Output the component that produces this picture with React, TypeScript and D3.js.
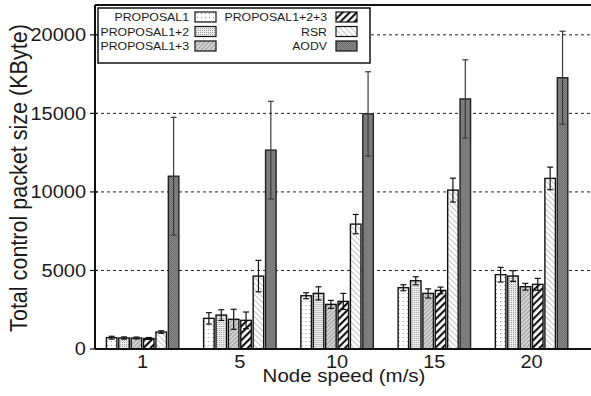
import React from 'react';
import * as d3 from 'd3';

const speeds = ['1', '5', '10', '15', '20'];
const seriesNames = ['PROPOSAL1', 'PROPOSAL1+2', 'PROPOSAL1+3', 'PROPOSAL1+2+3', 'RSR', 'AODV'];

const proposal1 = [720, 1950, 3390, 3900, 4730];
const proposal1Err = [90, 360, 190, 190, 465];
const proposal12 = [700, 2160, 3540, 4345, 4645];
const proposal12Err = [70, 340, 420, 255, 340];
const proposal13 = [700, 1890, 2840, 3540, 3965];
const proposal13Err = [60, 640, 255, 290, 215];
const proposal123 = [670, 1825, 3030, 3730, 4115];
const proposal123Err = [60, 530, 510, 210, 380];
const rsr = [1080, 4640, 7950, 10115, 10860];
const rsrErr = [80, 1000, 615, 760, 720];
const aodv = [11000, 12660, 14970, 15920, 17270];
const aodvErr = [3750, 3110, 2680, 2490, 2960];

const yTicks = [0, 5000, 10000, 15000, 20000];

const values = [proposal1, proposal12, proposal13, proposal123, rsr, aodv];
const errors = [proposal1Err, proposal12Err, proposal13Err, proposal123Err, rsrErr, aodvErr];
const fills = ['url(#pDots)', 'url(#pDense)', 'url(#pFine)', 'url(#pBold)', 'url(#pBack)', 'url(#pDark)'];

const font = '"Liberation Sans", Arial, Helvetica, sans-serif';
const SQ = 0.88; // picture is squeezed vertically

const W = 591, H = 396;
const left = 95, right = 591, top = 5, bottom = 349;

export default function App() {
  const x0 = d3.scaleBand().domain(speeds).range([94, 580.2]).padding(0);
  const x1 = d3.scaleBand().domain(seriesNames).range([0, x0.bandwidth()])
    .paddingInner(0.15).paddingOuter(1.0);
  const y = d3.scaleLinear().domain([0, 21900]).range([bottom, top]);

  const txt = (x: number, yy: number, s: string, size: number, anchor = 'middle', key?: any) => (
    <text key={key} transform={`translate(${x},${yy}) scale(1,${SQ})`} textAnchor={anchor}
      fontSize={size} fontFamily={font} fill="#1a1a1a">{s}</text>
  );

  return (
    <svg width={W} height={H} style={{ position: 'absolute', left: 0, top: 0, background: '#fff' }}>
      <defs>
        <pattern id="pDots" width="4" height="4" patternUnits="userSpaceOnUse">
          <rect width="4" height="4" fill="#fff" />
          <rect x="1" y="1" width="1" height="1" fill="#999" />
        </pattern>
        <pattern id="pDense" width="2" height="2" patternUnits="userSpaceOnUse">
          <rect width="2" height="2" fill="#eee" />
          <rect x="0" y="0" width="1" height="1" fill="#999" />
        </pattern>
        <pattern id="pFine" width="3" height="3" patternUnits="userSpaceOnUse" patternTransform="rotate(45)">
          <rect width="3" height="3" fill="#d4d4d4" />
          <line x1="0" y1="0" x2="0" y2="3" stroke="#777" strokeWidth="1.2" />
        </pattern>
        <pattern id="pBold" width="5" height="5" patternUnits="userSpaceOnUse" patternTransform="rotate(45)">
          <rect width="5" height="5" fill="#fff" />
          <line x1="1" y1="0" x2="1" y2="5" stroke="#111" strokeWidth="2.2" />
        </pattern>
        <pattern id="pBack" width="4" height="4" patternUnits="userSpaceOnUse" patternTransform="rotate(-45)">
          <rect width="4" height="4" fill="#fff" />
          <line x1="0" y1="0" x2="0" y2="4" stroke="#888" strokeWidth="1" />
        </pattern>
        <pattern id="pDark" width="2" height="2" patternUnits="userSpaceOnUse">
          <rect width="2" height="2" fill="#8a8a8a" />
          <rect x="0" y="0" width="1" height="1" fill="#6e6e6e" />
          <rect x="1" y="1" width="1" height="1" fill="#6e6e6e" />
        </pattern>
      </defs>

      {/* grid */}
      {yTicks.filter(t => t > 0).map(t => (
        <line key={t} x1={left} x2={right} y1={y(t)} y2={y(t)} stroke="#222" strokeWidth={1} strokeDasharray="3,3" />
      ))}

      {/* bars */}
      {speeds.map((s, gi) => (
        <g key={s} transform={`translate(${x0(s)},0)`}>
          {seriesNames.map((name, si) => {
            const v = values[si][gi];
            const e = errors[si][gi];
            const bx = x1(name)!;
            const bw = x1.bandwidth();
            const cx = bx + bw / 2;
            const errColor = si === 5 ? '#3a3a3a' : '#111';
            return (
              <g key={name}>
                <rect x={bx} y={y(v)} width={bw} height={bottom - y(v)} fill={fills[si]}
                  stroke={si === 5 ? '#222' : '#111'} strokeWidth={1.4} />
                <line x1={cx} x2={cx} y1={y(v + e)} y2={y(v - e)} stroke={errColor} strokeWidth={1.2} />
                <line x1={cx - 3} x2={cx + 3} y1={y(v + e)} y2={y(v + e)} stroke={errColor} strokeWidth={1.2} />
                <line x1={cx - 3} x2={cx + 3} y1={y(v - e)} y2={y(v - e)} stroke={errColor} strokeWidth={1.2} />
              </g>
            );
          })}
        </g>
      ))}

      {/* frame */}
      <line x1={left} x2={right} y1={top} y2={top} stroke="#111" strokeWidth={2} />
      <line x1={left} x2={left} y1={top} y2={bottom} stroke="#111" strokeWidth={2} />
      <line x1={left} x2={right} y1={bottom} y2={bottom} stroke="#111" strokeWidth={2} />

      {/* y ticks */}
      {yTicks.map(t => (
        <g key={t}>
          <line x1={left - 5} x2={left + 3} y1={y(t)} y2={y(t)} stroke="#111" strokeWidth={1.2} />
          {txt(86, y(t) + 6.3, String(t), 20, 'end')}
        </g>
      ))}

      {/* x tick labels */}
      {speeds.map(s => txt(x0(s)! + x0.bandwidth() / 2, 367.5, s, 20, 'middle', s))}

      {/* axis titles */}
      {txt(344, 381.5, 'Node speed (m/s)', 20.5)}
      <text transform={`translate(27,178) rotate(-90) scale(${SQ},1)`} textAnchor="middle"
        fontSize={24.5} fontFamily={font} fill="#1a1a1a">Total control packet size (KByte)</text>

      {/* legend */}
      <g>
        <rect x={98} y={8} width={272} height={55} fill="#fff" stroke="#111" strokeWidth={1.5} />
        {seriesNames.map((name, i) => {
          const col = Math.floor(i / 3);
          const row = i % 3;
          const textRight = col === 0 ? 189 : 327;
          const sx = col === 0 ? 195 : 336;
          const cy = 17 + row * 14.5;
          return (
            <g key={name}>
              {txt(textRight, cy + 4, name, 12.3, 'end')}
              <rect x={sx} y={cy - 5} width={21} height={10} fill={fills[i]} stroke="#111" strokeWidth={1.2} />
            </g>
          );
        })}
      </g>
    </svg>
  );
}
